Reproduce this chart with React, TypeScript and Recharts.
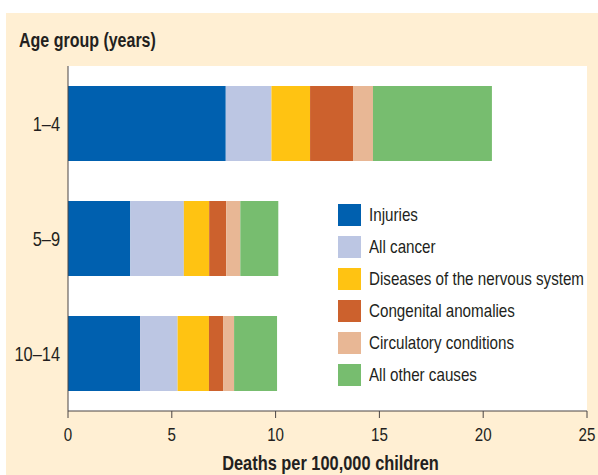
import { BarChart, Bar, XAxis, YAxis, CartesianGrid, Legend } from "recharts"

const ageGroups = ["1–4", "5–9", "10–14"]
const injuries = [7.6, 3.0, 3.47]
const cancer = [2.2, 2.58, 1.81]
const nervous = [1.86, 1.22, 1.51]
const congenital = [2.07, 0.82, 0.68]
const circulatory = [0.96, 0.68, 0.53]
const otherCauses = [5.73, 1.83, 2.07]
const xTicks = [0, 5, 10, 15, 20, 25]

const series = [
    { key: "injuries", name: "Injuries", color: "#0060af", values: injuries },
    { key: "cancer", name: "All cancer", color: "#bcc6e3", values: cancer },
    { key: "nervous", name: "Diseases of the nervous system", color: "#ffc312", values: nervous },
    { key: "congenital", name: "Congenital anomalies", color: "#cc612d", values: congenital },
    { key: "circulatory", name: "Circulatory conditions", color: "#e8b795", values: circulatory },
    { key: "other", name: "All other causes", color: "#77bd6f", values: otherCauses },
]

const data = ageGroups.map((age, i) => {
    const row: any = { age }
    series.forEach(s => { row[s.key] = s.values[i] })
    return row
})

// no condensed font available, so squeeze Liberation Sans horizontally
const font = "'Liberation Sans', Arial, sans-serif"
const squeeze = 0.82
const ink = "#231f20"

function YTick({ x, y, payload }: any) {
    return (
        <text transform={`translate(${x},${y}) scale(${squeeze},1)`} textAnchor="end" dy="0.355em"
            fontSize={20} fill={ink} fontFamily={font}>
            {payload.value}
        </text>
    )
}

function XTick({ x, y, payload }: any) {
    return (
        <text transform={`translate(${x},${y}) scale(${squeeze},1)`} textAnchor="middle" dy="0.71em"
            fontSize={18.5} fill={ink} fontFamily={font}>
            {payload.value}
        </text>
    )
}

function XTitle({ viewBox }: any) {
    const cx = viewBox.x + viewBox.width / 2 + 3
    return (
        <text transform={`translate(${cx},470) scale(${squeeze},1)`} textAnchor="middle"
            fontSize={20} fontWeight={700} fill={ink} fontFamily={font}>
            Deaths per 100,000 children
        </text>
    )
}

function LegendBox() {
    return (
        <div style={{ fontFamily: font }}>
            {series.map(s => (
                <div key={s.key} style={{ display: "flex", alignItems: "center", height: 32 }}>
                    <div style={{ width: 23, height: 22, background: s.color, marginRight: 8, flex: "none" }} />
                    <span style={{
                        fontSize: 18.5, color: ink, whiteSpace: "nowrap", display: "inline-block",
                        transform: `scaleX(${squeeze})`, transformOrigin: "left center"
                    }}>{s.name}</span>
                </div>
            ))}
        </div>
    )
}

export default function App() {
    return (
        <div style={{ position: "absolute", left: 0, top: 0, width: 598, height: 475, background: "#fff" }}>
            <div style={{ position: "absolute", left: 6, top: 13, width: 592, height: 462, background: "#ffefd3" }} />
            <div style={{
                position: "absolute", left: 19, top: 28, fontFamily: font, fontWeight: 700, fontSize: 19.5,
                color: ink, lineHeight: "24px", whiteSpace: "nowrap",
                transform: `scaleX(${squeeze})`, transformOrigin: "left center"
            }}>
                Age group (years)
            </div>
            <div style={{ position: "absolute", left: 0, top: 0 }}>
                <BarChart width={598} height={475} data={data} layout="vertical"
                    margin={{ top: 66, right: 11, bottom: 0, left: 8 }}>
                    <CartesianGrid fill="#fff" stroke="none" horizontal={false} vertical={false} />
                    <XAxis type="number" domain={[0, 25]} ticks={xTicks} height={64}
                        stroke="#4a4545" tickSize={7} tickMargin={10} tick={<XTick />}
                        label={{ content: (p: any) => <XTitle {...p} /> }} />
                    <YAxis type="category" dataKey="age" width={60} stroke="#4a4545" tickLine={false}
                        tick={<YTick />} />
                    <Legend layout="vertical" align="center" verticalAlign="middle" content={<LegendBox />}
                        wrapperStyle={{ position: "absolute", left: 338, top: 199, width: 250, height: "auto" }} />
                    {series.map(s => (
                        <Bar key={s.key} dataKey={s.key} name={s.name} stackId="a" fill={s.color}
                            barSize={75} isAnimationActive={false} />
                    ))}
                </BarChart>
            </div>
        </div>
    )
}
